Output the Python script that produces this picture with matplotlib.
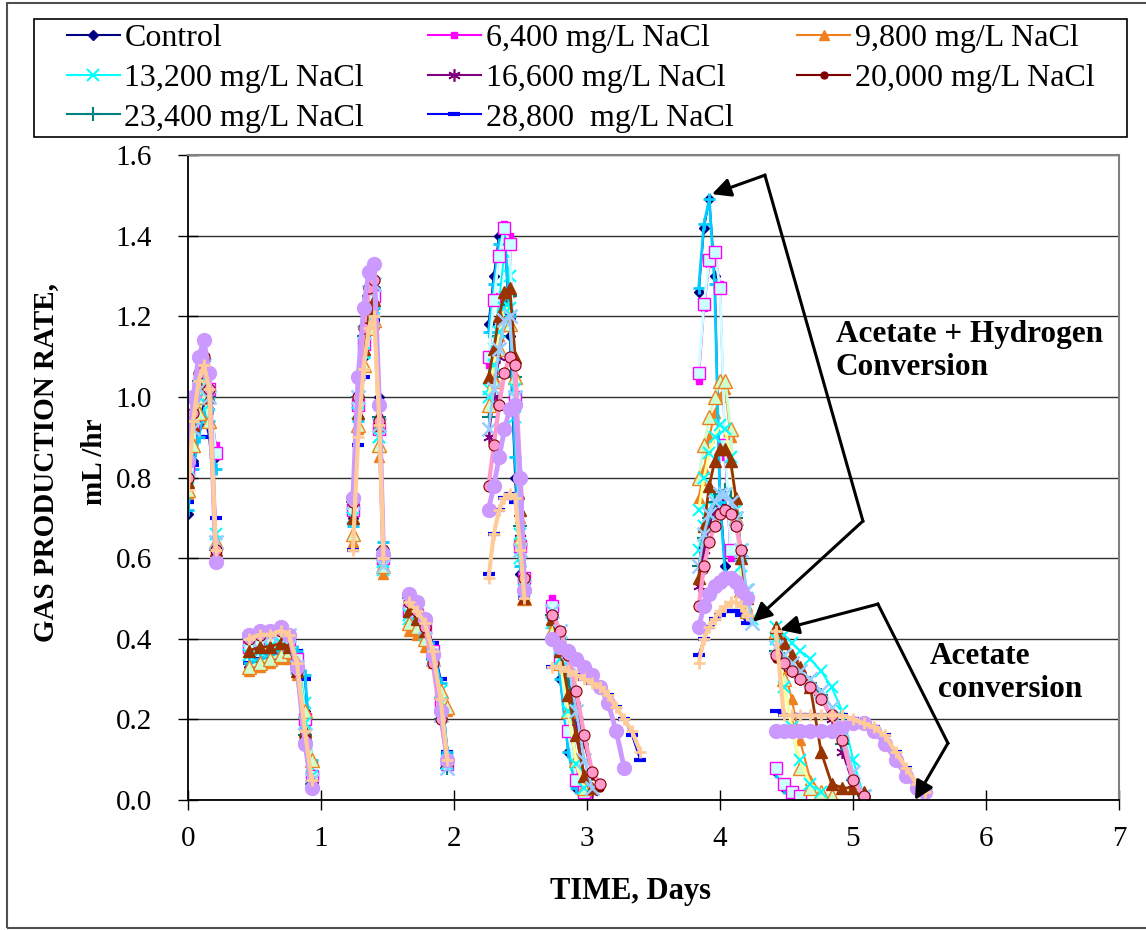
import numpy as np
import matplotlib
matplotlib.use("Agg")
import matplotlib.pyplot as plt
from matplotlib.patches import Rectangle

plt.rcParams['font.family'] = ['Liberation Serif', 'DejaVu Serif']

N = None  # gap between feeding cycles / no reading

# sampling times (days), cycles separated by gaps
days = [
    0.00, 0.04, 0.08, 0.12, 0.16, 0.21, N,
    0.46, 0.54, 0.62, 0.70, 0.76, 0.82, 0.88, 0.93, N,
    1.24, 1.28, 1.32, 1.36, 1.40, 1.44, 1.47, N,
    1.66, 1.72, 1.78, 1.84, 1.90, 1.95, N,
    2.26, 2.30, 2.34, 2.38, 2.42, 2.46, 2.50, 2.53, N,
    2.74, 2.80, 2.86, 2.92, 2.98, 3.04, 3.10, 3.16, 3.22, 3.28, 3.34, 3.40, N,
    3.84, 3.88, 3.92, 3.96, 4.00, 4.04, 4.08, 4.12, 4.16, 4.20, 4.24, N,
    4.42, 4.48, 4.54, 4.60, 4.68, 4.76, 4.84, 4.92, 5.00, 5.08, 5.16, 5.24, 5.32, 5.40, 5.48, 5.54,
]

# gas production rate, mL/hr
control = [
    0.71, 0.84, 0.93, 0.99, 0.97, 0.85, N,
    0.33, 0.34, 0.35, 0.36, 0.36, 0.35, 0.22, 0.06, N,
    0.70, 0.95, 1.10, 1.20, 1.22, 1.00, 0.60, N,
    0.46, 0.45, 0.42, 0.36, 0.25, 0.10, N,
    1.18, 1.30, 1.40, 1.42, 1.15, 0.80, 0.56, 0.53, N,
    0.45, 0.30, 0.12, 0.03, 0.02, N, N, N, N, N, N, N, N,
    1.26, 1.42, 1.49, 1.30, 0.75, 0.58, N, N, N, N, N, N,
    0.07, 0.03, 0.02, 0.01, N, N, N, N, N, N, N, N, N, N, N, N,
]
nacl_6400 = [
    0.80, 0.92, 1.00, 1.05, 1.00, 0.88, N,
    0.38, 0.39, 0.40, 0.41, 0.40, 0.34, 0.18, 0.05, N,
    0.72, 0.98, 1.13, 1.24, 1.26, 0.95, 0.60, N,
    0.48, 0.46, 0.43, 0.36, 0.22, 0.09, N,
    1.08, 1.25, 1.36, 1.43, 1.40, 1.00, 0.62, 0.55, N,
    0.50, 0.36, 0.18, 0.06, 0.02, N, N, N, N, N, N, N, N,
    1.04, 1.22, 1.33, 1.36, 1.28, 0.85, 0.60, N, N, N, N, N,
    0.08, 0.04, 0.02, 0.01, N, N, N, N, N, N, N, N, N, N, N, N,
]
nacl_9800 = [
    0.76, 0.90, 1.00, 1.07, 0.98, 0.62, N,
    0.32, 0.33, 0.34, 0.35, 0.35, 0.31, 0.18, 0.05, N,
    0.64, 0.92, 1.08, 1.17, 1.18, 0.85, 0.56, N,
    0.42, 0.41, 0.38, 0.34, 0.27, 0.22, N,
    0.98, 1.05, 1.15, 1.24, 1.26, 1.10, 0.70, 0.50, N,
    0.44, 0.36, 0.22, 0.10, 0.03, N, N, N, N, N, N, N, N,
    0.75, 0.82, 0.90, 0.96, 1.00, 1.02, 0.90, 0.70, 0.55, 0.48, N, N,
    0.43, 0.33, 0.25, 0.15, 0.05, 0.02, 0.01, N, N, N, N, N, N, N, N, N,
]
nacl_13200 = [
    0.82, 0.93, 1.02, 1.06, 1.00, 0.64, N,
    0.36, 0.37, 0.38, 0.39, 0.39, 0.36, 0.24, 0.08, N,
    0.70, 0.96, 1.12, 1.22, 1.22, 0.90, 0.57, N,
    0.45, 0.44, 0.41, 0.36, 0.27, 0.10, N,
    1.02, 1.12, 1.24, 1.36, 1.30, 0.95, 0.60, 0.53, N,
    0.47, 0.38, 0.25, 0.10, 0.02, N, N, N, N, N, N, N, N,
    0.62, 0.68, 0.72, 0.75, 0.76, 0.76, 0.74, 0.70, 0.62, 0.52, 0.45, N,
    0.43, 0.41, 0.39, 0.37, 0.35, 0.32, 0.28, 0.22, 0.10, 0.01, N, N, N, N, N, N,
]
nacl_16600 = [
    0.80, 0.95, 1.05, 1.10, 1.02, 0.62, N,
    0.40, 0.41, 0.41, 0.42, 0.41, 0.34, 0.17, 0.05, N,
    0.74, 1.00, 1.16, 1.26, 1.28, 0.92, 0.60, N,
    0.49, 0.47, 0.43, 0.35, 0.22, 0.09, N,
    0.90, 1.00, 1.10, 1.18, 1.20, 1.00, 0.65, 0.52, N,
    0.46, 0.40, 0.30, 0.18, 0.06, 0.02, N, N, N, N, N, N, N,
    0.53, 0.62, 0.68, 0.72, 0.74, 0.75, 0.73, 0.68, 0.60, 0.50, N, N,
    0.36, 0.34, 0.32, 0.30, 0.28, 0.25, 0.20, 0.12, 0.04, 0.01, N, N, N, N, N, N,
]
nacl_20000 = [
    0.78, 0.92, 1.03, 1.08, 0.96, 0.63, N,
    0.39, 0.40, 0.40, 0.41, 0.40, 0.33, 0.16, 0.05, N,
    0.72, 0.98, 1.14, 1.24, 1.26, 0.95, 0.62, N,
    0.48, 0.46, 0.42, 0.34, 0.20, 0.10, N,
    0.78, 0.88, 0.98, 1.06, 1.10, 1.05, 0.75, 0.55, N,
    0.45, 0.41, 0.34, 0.24, 0.14, 0.06, 0.03, N, N, N, N, N, N,
    0.48, 0.57, 0.64, 0.68, 0.71, 0.72, 0.71, 0.68, 0.62, N, N, N,
    0.35, 0.33, 0.32, 0.30, 0.28, 0.25, 0.21, 0.15, 0.05, 0.01, N, N, N, N, N, N,
]
nacl_23400 = [
    0.80, 0.94, 1.04, 1.09, 1.00, 0.62, N,
    0.40, 0.41, 0.41, 0.42, 0.41, 0.33, 0.16, 0.04, N,
    0.74, 1.00, 1.15, 1.25, 1.27, 0.95, 0.62, N,
    0.50, 0.48, 0.44, 0.35, 0.20, 0.08, N,
    0.95, 1.05, 1.15, 1.23, 1.25, 1.05, 0.68, 0.52, N,
    0.46, 0.40, 0.30, 0.16, 0.05, N, N, N, N, N, N, N, N,
    0.58, 0.65, 0.70, 0.74, 0.76, 0.77, 0.75, 0.70, 0.62, 0.50, N, N,
    0.37, 0.35, 0.33, 0.31, 0.29, 0.26, 0.21, 0.14, 0.05, 0.01, N, N, N, N, N, N,
]
nacl_28800 = [
    0.74, 0.83, 0.90, 0.96, 0.90, 0.70, N,
    0.34, 0.35, 0.36, 0.37, 0.38, 0.37, 0.30, 0.09, N,
    0.62, 0.88, 1.05, 1.16, 1.19, 0.92, 0.62, N,
    0.46, 0.45, 0.43, 0.39, 0.30, 0.12, N,
    0.56, 0.66, 0.72, 0.75, 0.76, 0.74, 0.62, 0.50, N,
    0.33, 0.33, 0.32, 0.31, 0.30, 0.29, 0.28, 0.26, 0.23, 0.20, 0.16, 0.10, N,
    0.36, 0.40, 0.43, 0.45, 0.46, 0.47, 0.47, 0.47, 0.46, 0.44, N, N,
    0.22, 0.21, 0.21, 0.21, 0.21, 0.21, 0.21, 0.21, 0.20, 0.19, 0.18, 0.16, 0.12, 0.08, 0.04, 0.02,
]

# remaining reactor series (not in the legend)
sky_blue = [
    0.72, 0.82, 0.90, 0.96, 0.94, 0.82, N,
    0.34, 0.35, 0.36, 0.37, 0.38, 0.37, 0.31, 0.10, N,
    0.68, 0.94, 1.10, 1.20, 1.22, 0.98, 0.64, N,
    0.46, 0.45, 0.43, 0.38, 0.29, 0.12, N,
    1.16, 1.28, 1.38, 1.41, 1.20, 0.85, 0.58, 0.52, N,
    0.46, 0.30, 0.12, 0.03, 0.02, N, N, N, N, N, N, N, N,
    1.27, 1.43, 1.49, 1.28, 0.74, 0.56, N, N, N, N, N, N,
    0.07, 0.03, 0.02, 0.01, N, N, N, N, N, N, N, N, N, N, N, N,
]
light_cyan = [
    0.82, 0.93, 1.02, 1.06, 1.02, 0.86, N,
    0.38, 0.39, 0.40, 0.41, 0.40, 0.35, 0.20, 0.06, N,
    0.72, 0.98, 1.13, 1.24, 1.25, 0.92, 0.60, N,
    0.47, 0.46, 0.43, 0.37, 0.24, 0.09, N,
    1.10, 1.24, 1.35, 1.42, 1.38, 1.00, 0.63, 0.55, N,
    0.48, 0.35, 0.17, 0.05, 0.02, N, N, N, N, N, N, N, N,
    1.06, 1.23, 1.34, 1.36, 1.27, 0.88, 0.62, N, N, N, N, N,
    0.08, 0.04, 0.02, 0.01, N, N, N, N, N, N, N, N, N, N, N, N,
]
light_green = [
    0.77, 0.88, 0.96, 1.00, 0.94, 0.64, N,
    0.33, 0.34, 0.35, 0.36, 0.37, 0.34, 0.22, 0.10, N,
    0.66, 0.93, 1.08, 1.17, 1.19, 0.88, 0.58, N,
    0.44, 0.43, 0.40, 0.35, 0.27, 0.23, N,
    0.98, 1.04, 1.12, 1.18, 1.18, 1.05, 0.65, 0.50, N,
    0.42, 0.34, 0.22, 0.10, 0.03, N, N, N, N, N, N, N, N,
    0.80, 0.88, 0.95, 1.00, 1.04, 1.04, 0.92, 0.70, 0.52, 0.47, N, N,
    0.42, 0.30, 0.18, 0.08, 0.03, 0.02, 0.01, N, N, N, N, N, N, N, N, N,
]
light_yellow = [
    0.80, 0.92, 1.00, 1.04, 0.98, 0.66, N,
    0.36, 0.37, 0.38, 0.39, 0.38, 0.33, 0.19, 0.06, N,
    0.70, 0.96, 1.11, 1.20, 1.21, 0.90, 0.59, N,
    0.46, 0.45, 0.42, 0.36, 0.24, 0.09, N,
    1.00, 1.08, 1.16, 1.22, 1.22, 1.02, 0.66, 0.52, N,
    0.44, 0.35, 0.22, 0.09, 0.03, N, N, N, N, N, N, N, N,
    0.72, 0.80, 0.86, 0.90, 0.93, 0.92, 0.85, 0.72, 0.58, 0.50, N, N,
    0.40, 0.28, 0.18, 0.10, 0.04, 0.02, N, N, N, N, N, N, N, N, N, N,
]
brown = [
    0.79, 0.93, 1.03, 1.08, 1.00, 0.62, N,
    0.37, 0.38, 0.38, 0.39, 0.38, 0.32, 0.17, 0.05, N,
    0.70, 0.96, 1.12, 1.22, 1.24, 0.93, 0.62, N,
    0.47, 0.45, 0.42, 0.35, 0.23, 0.10, N,
    1.05, 1.12, 1.20, 1.26, 1.27, 1.10, 0.72, 0.50, N,
    0.45, 0.37, 0.26, 0.16, 0.06, 0.03, N, N, N, N, N, N, N,
    0.55, 0.68, 0.78, 0.84, 0.87, 0.87, 0.84, 0.75, 0.60, 0.50, N, N,
    0.43, 0.39, 0.36, 0.33, 0.28, 0.12, 0.04, 0.03, 0.03, 0.02, N, N, N, N, N, N,
]
pale_blue = [
    0.82, 0.92, 1.02, 1.08, 1.00, 0.64, N,
    0.40, 0.41, 0.41, 0.42, 0.41, 0.33, 0.16, 0.05, N,
    0.74, 1.00, 1.16, 1.26, 1.28, 0.93, 0.58, N,
    0.49, 0.47, 0.43, 0.35, 0.21, 0.08, N,
    0.92, 1.02, 1.12, 1.19, 1.20, 1.00, 0.62, 0.53, N,
    0.47, 0.42, 0.34, 0.22, 0.10, 0.03, N, N, N, N, N, N, N,
    0.58, 0.66, 0.71, 0.74, 0.76, 0.76, 0.74, 0.70, 0.62, 0.52, 0.44, N,
    0.38, 0.36, 0.34, 0.32, 0.30, 0.27, 0.23, 0.17, 0.07, 0.01, N, N, N, N, N, N,
]
rose = [
    0.80, 0.96, 1.06, 1.10, 1.02, 0.62, N,
    0.40, 0.41, 0.42, 0.42, 0.41, 0.32, 0.15, 0.04, N,
    0.74, 1.00, 1.17, 1.27, 1.29, 0.94, 0.62, N,
    0.49, 0.47, 0.43, 0.34, 0.20, 0.10, N,
    0.78, 0.88, 0.98, 1.06, 1.10, 1.08, 0.80, 0.55, N,
    0.46, 0.42, 0.36, 0.27, 0.16, 0.07, 0.04, N, N, N, N, N, N,
    0.48, 0.58, 0.64, 0.68, 0.71, 0.72, 0.71, 0.68, 0.62, N, N, N,
    0.36, 0.34, 0.32, 0.30, 0.28, 0.25, 0.21, 0.15, 0.05, 0.01, N, N, N, N, N, N,
]
lavender = [
    0.84, 1.00, 1.10, 1.14, 1.06, 0.59, N,
    0.41, 0.42, 0.42, 0.43, 0.41, 0.33, 0.14, 0.03, N,
    0.75, 1.05, 1.22, 1.31, 1.33, 0.98, 0.61, N,
    0.51, 0.49, 0.45, 0.36, 0.22, 0.10, N,
    0.72, 0.78, 0.85, 0.92, 0.97, 0.98, 0.80, 0.52, N,
    0.40, 0.38, 0.37, 0.35, 0.33, 0.31, 0.28, 0.24, 0.17, 0.08, N, N, N,
    0.43, 0.48, 0.51, 0.53, 0.54, 0.55, 0.55, 0.54, 0.52, 0.50, N, N,
    0.17, 0.17, 0.17, 0.17, 0.17, 0.17, 0.17, 0.18, 0.19, 0.19, 0.17, 0.14, 0.10, 0.06, 0.03, 0.02,
]
tan = [
    0.77, 0.94, 1.04, 1.08, 1.02, 0.62, N,
    0.40, 0.41, 0.41, 0.42, 0.41, 0.34, 0.17, 0.05, N,
    0.62, 0.90, 1.07, 1.17, 1.20, 0.93, 0.60, N,
    0.49, 0.47, 0.44, 0.37, 0.25, 0.10, N,
    0.55, 0.66, 0.72, 0.75, 0.76, 0.75, 0.62, 0.50, N,
    0.33, 0.33, 0.32, 0.31, 0.30, 0.29, 0.28, 0.26, 0.23, 0.20, 0.17, 0.12, N,
    0.34, 0.40, 0.43, 0.45, 0.47, 0.48, 0.49, 0.49, 0.48, 0.46, N, N,
    0.42, 0.21, 0.21, 0.21, 0.21, 0.21, 0.21, 0.21, 0.20, 0.19, 0.18, 0.16, 0.12, 0.08, 0.04, 0.02,
]

legend_labels = ['Control', '6,400 mg/L NaCl', '9,800 mg/L NaCl', '13,200 mg/L NaCl',
                 '16,600 mg/L NaCl', '20,000 mg/L NaCl', '23,400 mg/L NaCl', '28,800  mg/L NaCl']

t = np.array(days, dtype=float)

fig = plt.figure(figsize=(11.46, 9.3), dpi=100)
ax = fig.add_axes([0.164, 0.1398, 0.8124, 0.6935])

def series(vals, color, marker, ms=6, mfc=None, mec=None, mew=1.0, lw=1.5, label='_nolegend_'):
    y = np.array(vals, dtype=float)
    line, = ax.plot(t, y, color=color, lw=lw, marker=marker, ms=ms,
                    mfc=mfc if mfc else color, mec=mec if mec else color, mew=mew, label=label)
    return line

h = []
h.append(series(control, '#000080', 'D', ms=5, label=legend_labels[0]))
h.append(series(nacl_6400, '#FF00FF', 's', ms=5, label=legend_labels[1]))
h.append(series(nacl_9800, '#F07F1E', '^', ms=7, label=legend_labels[2]))
h.append(series(nacl_13200, '#00FFFF', 'x', ms=8, mew=1.5, label=legend_labels[3]))
h.append(series(nacl_16600, '#800080', (6, 2, 0), ms=9, mew=1.2, label=legend_labels[4]))
h.append(series(nacl_20000, '#800000', 'o', ms=5, label=legend_labels[5]))
h.append(series(nacl_23400, '#008080', '+', ms=10, mew=1.5, label=legend_labels[6]))
h.append(series(nacl_28800, '#0000FF', '_', ms=8, mew=3, label=legend_labels[7]))

series(sky_blue, '#00CCFF', '+', ms=9, mew=2, lw=2)
series(light_cyan, '#CCFFFF', 's', ms=8, mfc='#CCFFFF', mec='#FF00FF', lw=2)
series(light_green, '#CCFFCC', '^', ms=10, mfc='#CCFFCC', mec='#F07F1E', lw=2)
series(light_yellow, '#FFFF99', 'x', ms=8, mec='#00FFFF', mew=1.5, lw=2)
series(brown, '#993300', '^', ms=9, lw=2)
series(pale_blue, '#99CCFF', 'x', ms=10, mew=1.8, lw=2)
series(rose, '#FF99CC', 'o', ms=8, mfc='#FF99CC', mec='#800000', mew=0.8, lw=3)
series(lavender, '#CC99FF', 'o', ms=10, mfc='#CC99FF', mec='#CC99FF', lw=3.5)
series(tan, '#FFCC99', '+', ms=9, mew=2, lw=3)

ax.set_xlim(0, 7)
ax.set_ylim(0, 1.6)
ax.set_xticks(range(8))
ax.set_yticks(np.arange(0, 1.61, 0.2))
ax.set_yticklabels(['%.1f' % v for v in np.arange(0, 1.61, 0.2)])
ax.yaxis.grid(True, color='#303030', lw=1.0)
ax.set_axisbelow(True)
ax.tick_params(axis='both', direction='inout', length=14, width=1.0, labelsize=21)
ax.tick_params(axis='y', pad=19)
ax.tick_params(axis='x', pad=12)
for s in ['left', 'bottom']:
    ax.spines[s].set_color('black')
    ax.spines[s].set_linewidth(1.3)
for s in ['top', 'right']:
    ax.spines[s].set_color('#808080')
    ax.spines[s].set_linewidth(1.5)

# axis titles
fig.text(46 / 1146, 1 - 462 / 930, 'GAS PRODUCTION RATE,', rotation=90, ha='center', va='center',
         fontsize=21, fontweight='bold')
fig.text(95 / 1146, 1 - 462 / 930, 'mL /hr', rotation=90, ha='center', va='center',
         fontsize=21, fontweight='bold')
fig.text(631 / 1146, 1 - 891 / 930, 'TIME, Days', ha='center', va='center',
         fontsize=22, fontweight='bold')

# annotations
ax.text(4.872, 1.114, 'Acetate + Hydrogen\nConversion', ha='left', va='center',
        fontsize=22.5, fontweight='bold')
ax.text(5.579, 0.315, 'Acetate\n conversion', ha='left', va='center',
        fontsize=22.5, fontweight='bold')
akw = dict(arrowstyle='-|>', lw=2.2, color='black', mutation_scale=28, shrinkA=0, shrinkB=0)
ax.plot([4.338, 5.075], [1.550, 0.692], color='black', lw=2.2, clip_on=False)
ax.annotate('', xy=(3.940, 1.503), xytext=(4.338, 1.550), arrowprops=akw)
ax.annotate('', xy=(4.248, 0.442), xytext=(5.075, 0.692), arrowprops=akw)
ax.plot([5.188, 5.714], [0.486, 0.141], color='black', lw=2.2, clip_on=False)
ax.annotate('', xy=(4.451, 0.422), xytext=(5.188, 0.486), arrowprops=akw)
ax.annotate('', xy=(5.466, 0.0), xytext=(5.714, 0.141), arrowprops=akw)

# legend (row-major order like the original)
order = [0, 3, 6, 1, 4, 7, 2, 5]
fig.legend([h[i] for i in order], [legend_labels[i] for i in order], ncol=3,
           loc='upper left', bbox_to_anchor=(67 / 1146, 1 - 24 / 930), frameon=False,
           prop={'family': 'Liberation Serif', 'size': 23},
           handlelength=1.65, handletextpad=0.15, columnspacing=2.0,
           labelspacing=0.32, borderpad=0, borderaxespad=0)
fig.patches.append(Rectangle((34 / 1146, 1 - 137 / 930), (1127 - 34) / 1146, 118 / 930,
                             transform=fig.transFigure, fill=False, ec='black', lw=1.2))
fig.patches.append(Rectangle((7 / 1146, 2 / 930), 1.2, 925 / 930,
                             transform=fig.transFigure, fill=False, ec='#505050', lw=1.5))

plt.savefig('out.png', dpi=100)
